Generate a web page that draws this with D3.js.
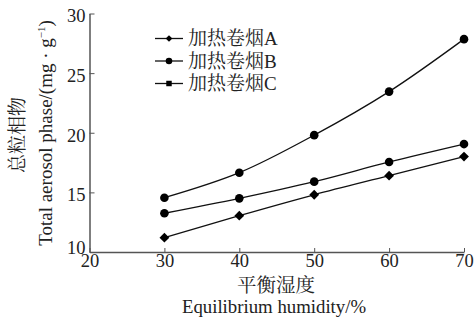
<!DOCTYPE html>
<html>
<head>
<meta charset="utf-8">
<script src="https://cdn.jsdelivr.net/npm/d3@7"></script>
<style>
  body { margin: 0; background: #fff; }
</style>
</head>
<body>
<div class="chart"></div>
<script>
var humidity = [30, 40, 50, 60, 70];
var seriesA = [11.2, 13.05, 14.8, 16.4, 18.0];
var seriesB = [14.55, 16.65, 19.8, 23.45, 27.85];
var seriesC = [13.25, 14.5, 15.9, 17.55, 19.05];
var legendNames = ['加热卷烟A', '加热卷烟B', '加热卷烟C'];
var xTicks = [20, 30, 40, 50, 60, 70];
var yTicks = [10, 15, 20, 25, 30];

var width = 474, height = 320;
var margin = { top: 13.5, right: 10, bottom: 68, left: 89.5 };
var font = 'Liberation Serif, Noto Serif CJK SC, serif';
var textColor = '#222';

var svg = d3.select('.chart')
  .append('svg')
  .attr('width', width)
  .attr('height', height)
  .attr('font-family', font);

var xScale = d3.scaleLinear()
  .domain([20, 70])
  .range([margin.left, 464]);

var yScale = d3.scaleLinear()
  .domain([10, 30])
  .range([252, margin.top]);

var axisColor = '#555';

var xAxis = g => g
  .attr('transform', `translate(0, ${yScale(10)})`)
  .call(d3.axisBottom(xScale).tickValues(xTicks).tickSize(-4).tickPadding(4).tickSizeOuter(0))
  .attr('font-family', font)
  .attr('font-size', 18.5)
  .call(g => g.selectAll('.tick line').attr('stroke', axisColor))
  .call(g => g.select('.domain').attr('stroke', axisColor).attr('stroke-width', 1.5))
  .call(g => g.selectAll('.tick text').attr('fill', textColor).attr('dy', '0.6em'));

var yAxis = g => g
  .attr('transform', `translate(${xScale(20)}, 0)`)
  .call(d3.axisLeft(yScale).tickValues(yTicks).tickSize(-5).tickPadding(4).tickSizeOuter(0))
  .attr('font-family', font)
  .attr('font-size', 18.5)
  .call(g => g.selectAll('.tick line').attr('stroke', axisColor))
  .call(g => g.select('.domain').attr('stroke', axisColor).attr('stroke-width', 1.5))
  .call(g => g.selectAll('.tick text').attr('fill', textColor).attr('dy', '0.45em'));

svg.append('g').call(xAxis);
svg.append('g').call(yAxis);

// the 10 label sits a little higher in the original
svg.selectAll('.tick text').filter(d => d === 10).attr('dy', '0.1em');

var data = [
  { values: seriesB, marker: 'circle' },
  { values: seriesC, marker: 'circle' },
  { values: seriesA, marker: 'diamond' }
];

var line = d3.line()
  .x((d, i) => xScale(humidity[i]))
  .y(d => yScale(d))
  .curve(d3.curveCatmullRom.alpha(0.5));

svg.selectAll('.line')
  .data(data)
  .enter()
  .append('path')
  .attr('class', 'line')
  .attr('d', d => line(d.values))
  .attr('stroke', '#111')
  .attr('stroke-width', 1.3)
  .attr('fill', 'none');

var symbolOf = {
  circle: d3.symbol().type(d3.symbolCircle).size(58),
  diamond: d3.symbol().type(d3.symbolSquare).size(48)
};

data.forEach(s => {
  svg.append('g')
    .selectAll('path')
    .data(s.values)
    .enter()
    .append('path')
    .attr('d', symbolOf[s.marker])
    .attr('transform', (d, i) => `translate(${xScale(humidity[i])}, ${yScale(d)})` + (s.marker === 'diamond' ? ' rotate(45)' : ''))
    .attr('fill', '#000');
});

// legend
var legendMarkers = [
  { type: d3.symbolSquare, size: 22, rot: 45 },
  { type: d3.symbolCircle, size: 34, rot: 0 },
  { type: d3.symbolSquare, size: 30, rot: 0 }
];
var legend = svg.append('g').attr('transform', 'translate(155, 38.5)');
legendNames.forEach((name, i) => {
  var row = legend.append('g').attr('transform', `translate(0, ${i * 22.5})`);
  row.append('line').attr('x1', 0).attr('x2', 28).attr('stroke', '#111').attr('stroke-width', 1.3);
  row.append('path')
    .attr('d', d3.symbol().type(legendMarkers[i].type).size(legendMarkers[i].size))
    .attr('transform', `translate(14, 0) rotate(${legendMarkers[i].rot})`)
    .attr('fill', '#000');
  row.append('text')
    .attr('x', 33)
    .attr('dy', '0.35em')
    .attr('font-size', 19)
    .attr('fill', textColor)
    .text(name);
});

// axis titles
svg.append('text')
  .attr('x', 276).attr('y', 292)
  .attr('text-anchor', 'middle')
  .attr('font-size', 19.5)
  .attr('fill', textColor)
  .text('平衡湿度');
svg.append('text')
  .attr('x', 274).attr('y', 313)
  .attr('text-anchor', 'middle')
  .attr('font-size', 18.8)
  .attr('fill', textColor)
  .text('Equilibrium humidity/%');

svg.append('text')
  .attr('transform', 'translate(24, 135) rotate(-90)')
  .attr('text-anchor', 'middle')
  .attr('font-size', 19)
  .attr('fill', textColor)
  .text('总粒相物');
var yTitle = svg.append('text')
  .attr('transform', 'translate(52, 133) rotate(-90)')
  .attr('text-anchor', 'middle')
  .attr('font-size', 19)
  .attr('fill', textColor);
yTitle.append('tspan').text('Total aerosol phase/(mg · g');
yTitle.append('tspan').attr('font-size', 11).attr('dy', -7).text('−1');
yTitle.append('tspan').attr('dy', 7).text(')');
</script>
</body>
</html>
